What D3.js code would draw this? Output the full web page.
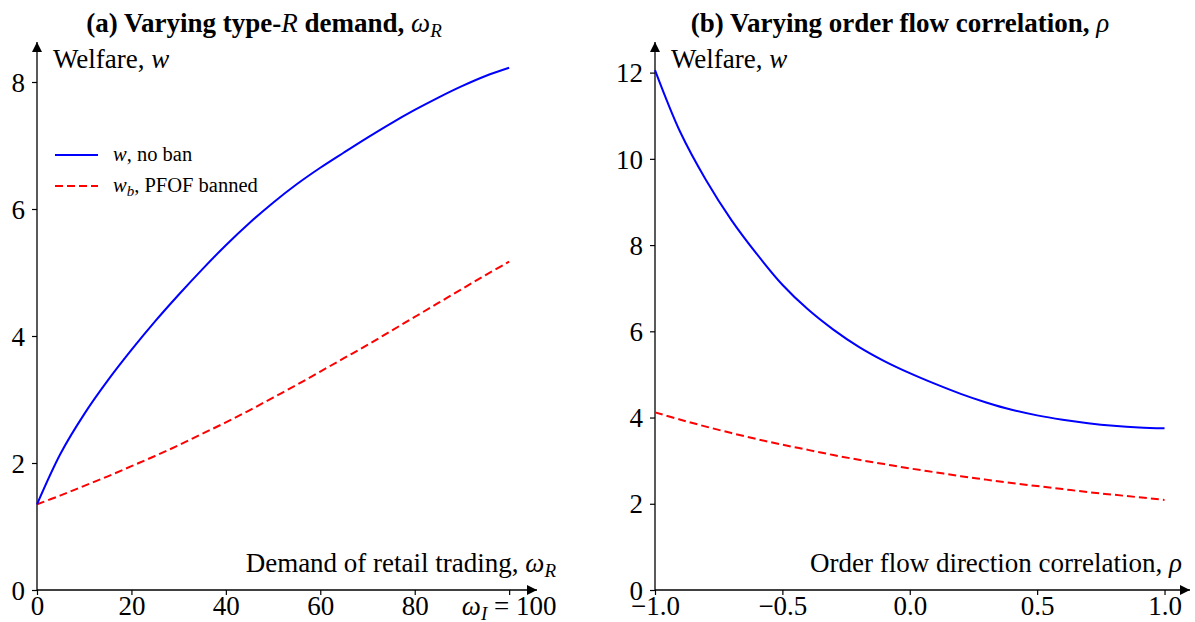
<!DOCTYPE html>
<html lang="en">
<head>
<meta charset="utf-8">
<title>welfare</title>
<script src="https://cdn.jsdelivr.net/npm/d3@7"></script>
<style>
  body { margin: 0; background: #fff; }
  text { font-family: "Liberation Serif", "DejaVu Serif", serif; fill: #000; }
</style>
</head>
<body>
<div id="container"></div>
<script>
// panel (a): demand of retail trading
var demandX = [0, 5, 10, 15, 20, 25, 30, 35, 40, 45, 50, 55, 60, 65, 70, 75, 80, 85, 90, 95, 100];
var demandNoBan = [1.35, 2.15, 2.77, 3.30, 3.78, 4.23, 4.65, 5.05, 5.43, 5.78, 6.10, 6.39, 6.65, 6.89, 7.125, 7.35, 7.56, 7.755, 7.935, 8.095, 8.225];
var demandBanned = [1.35, 1.49, 1.64, 1.79, 1.95, 2.11, 2.28, 2.46, 2.64, 2.83, 3.03, 3.23, 3.44, 3.65, 3.86, 4.08, 4.30, 4.52, 4.74, 4.96, 5.17];
var demandTicksX = [0, 20, 40, 60, 80, 100];
var demandTicksY = [0, 2, 4, 6, 8];

// panel (b): order flow correlation
var rhoX = [-1.0, -0.9, -0.8, -0.7, -0.6, -0.5, -0.4, -0.3, -0.2, -0.1, 0.0, 0.1, 0.2, 0.3, 0.4, 0.5, 0.6, 0.7, 0.8, 0.9, 1.0];
var rhoNoBan = [12.06, 10.61, 9.51, 8.58, 7.79, 7.08, 6.51, 6.04, 5.64, 5.31, 5.03, 4.78, 4.55, 4.35, 4.18, 4.05, 3.95, 3.87, 3.81, 3.77, 3.75];
var rhoBanned = [4.12, 3.95, 3.79, 3.64, 3.50, 3.37, 3.25, 3.13, 3.02, 2.92, 2.82, 2.73, 2.64, 2.56, 2.48, 2.41, 2.34, 2.27, 2.21, 2.15, 2.09];
var rhoTicksX = [-1.0, -0.5, 0.0, 0.5, 1.0];
var rhoTicksY = [0, 2, 4, 6, 8, 10, 12];

var w = 1195, h = 622;
var svg = d3.select("#container").append("svg")
    .attr("width", w).attr("height", h)
    .style("background-color", "#ffffff");

var defs = svg.append("defs");
defs.append("marker")
    .attr("id", "arrow")
    .attr("viewBox", "0 0 10 10")
    .attr("refX", 10).attr("refY", 5)
    .attr("markerWidth", 10).attr("markerHeight", 10)
    .attr("markerUnits", "userSpaceOnUse")
    .attr("orient", "auto")
    .append("path").attr("d", "M0,0 L10,5 L0,10 z").attr("fill", "#000");

var minus = function(v) { return d3.format(".1f")(v).replace("-", "\u2212"); };

function drawPanel(opt)
{
    var g = svg.append("g");
    var x = d3.scaleLinear().domain(opt.xDomain).range(opt.xRange);
    var y = d3.scaleLinear().domain(opt.yDomain).range([590, 42]);

    // axes with arrows
    g.append("line")
        .attr("x1", x(opt.xDomain[0])).attr("y1", y(0))
        .attr("x2", x(opt.xDomain[1])).attr("y2", y(0))
        .attr("stroke", "#000").attr("stroke-width", 1.3)
        .attr("marker-end", "url(#arrow)");
    g.append("line")
        .attr("x1", x(opt.xDomain[0])).attr("y1", y(0))
        .attr("x2", x(opt.xDomain[0])).attr("y2", y(opt.yDomain[1]))
        .attr("stroke", "#000").attr("stroke-width", 1.3)
        .attr("marker-end", "url(#arrow)");

    var xAxis = d3.axisBottom(x).tickValues(opt.xTicks).tickSize(5).tickFormat(opt.xFormat);
    var yAxis = d3.axisLeft(y).tickValues(opt.yTicks).tickSize(5).tickPadding(7);

    var gx = g.append("g").attr("transform", "translate(0," + y(0) + ")").call(xAxis);
    var gy = g.append("g").attr("transform", "translate(" + x(opt.xDomain[0]) + ",0)").call(yAxis);
    [gx, gy].forEach(function(a) {
        a.select(".domain").remove();
        a.selectAll(".tick line").attr("stroke", "#000").attr("stroke-width", 1.2);
        a.selectAll("text").style("font-size", "27px").style("font-family", "Liberation Serif");
    });
    gx.selectAll("text").attr("y", 0).attr("dy", 25);
    gy.selectAll("text").attr("dy", "0.34em");

    var line = d3.line().x(function(d) { return x(d[0]); }).y(function(d) { return y(d[1]); }).curve(d3.curveCatmullRom.alpha(0.5));

    g.append("path")
        .datum(opt.xs.map(function(v, i) { return [v, opt.banned[i]]; }))
        .attr("d", line)
        .attr("fill", "none").attr("stroke", "#ff0000").attr("stroke-width", 2)
        .attr("stroke-dasharray", "8,4");
    g.append("path")
        .datum(opt.xs.map(function(v, i) { return [v, opt.noBan[i]]; }))
        .attr("d", line)
        .attr("fill", "none").attr("stroke", "#0000ff").attr("stroke-width", 2);

    g.append("text").attr("x", opt.titleX).attr("y", 32)
        .attr("text-anchor", "middle").style("font-size", "27px").style("font-weight", "bold")
        .html(opt.title);
    g.append("text").attr("x", x(opt.xDomain[0]) + 16).attr("y", 68)
        .style("font-size", "27px")
        .html('Welfare, <tspan font-style="italic">w</tspan>');
    g.append("text").attr("x", opt.labelEnd).attr("y", 572)
        .attr("text-anchor", "end").style("font-size", "27px")
        .html(opt.xLabel);
    return {x: x, y: y, g: g};
}

var left = drawPanel({
    xs: demandX, noBan: demandNoBan, banned: demandBanned,
    xDomain: [0, 105.9], xRange: [37, 537],
    yDomain: [0, 8.63],
    xTicks: demandTicksX, yTicks: demandTicksY,
    xFormat: function(v) { return v === 100 ? "" : v; },
    titleX: 264, labelEnd: 556,
    title: '(a) Varying type-<tspan font-style="italic" font-weight="normal">R</tspan> demand, <tspan font-style="italic" font-weight="normal">ω</tspan><tspan font-style="italic" font-weight="normal" font-size="19px" dy="5">R</tspan>',
    xLabel: 'Demand of retail trading, <tspan font-style="italic">ω</tspan><tspan font-style="italic" font-size="19px" dy="5">R</tspan>'
});

// the 100 tick gets the omega_I label
left.g.append("text").attr("x", left.x(100)).attr("y", 615)
    .attr("text-anchor", "middle").style("font-size", "27px")
    .html('<tspan font-style="italic">ω</tspan><tspan font-style="italic" font-size="19px" dy="5">I</tspan><tspan dy="-5"> = 100</tspan>');

// legend
var legendItems = [
    {y: 155, color: "#0000ff", dash: null, label: '<tspan font-style="italic">w</tspan>, no ban'},
    {y: 186, color: "#ff0000", dash: "8,4", label: '<tspan font-style="italic">w</tspan><tspan font-style="italic" font-size="15px" dy="4">b</tspan><tspan dy="-4">, PFOF banned</tspan>'}
];
legendItems.forEach(function(it) {
    left.g.append("line").attr("x1", 55).attr("x2", 98).attr("y1", it.y).attr("y2", it.y)
        .attr("stroke", it.color).attr("stroke-width", 2)
        .attr("stroke-dasharray", it.dash);
    left.g.append("text").attr("x", 113).attr("y", it.y + 6)
        .style("font-size", "20.5px").html(it.label);
});

drawPanel({
    xs: rhoX, noBan: rhoNoBan, banned: rhoBanned,
    xDomain: [-1, 1.1], xRange: [655, 1190],
    yDomain: [0, 12.71],
    xTicks: rhoTicksX, yTicks: rhoTicksY,
    xFormat: minus,
    titleX: 900, labelEnd: 1182,
    title: '(b) Varying order flow correlation, <tspan font-style="italic" font-weight="normal">ρ</tspan>',
    xLabel: 'Order flow direction correlation, <tspan font-style="italic">ρ</tspan>'
});
</script>
</body>
</html>
